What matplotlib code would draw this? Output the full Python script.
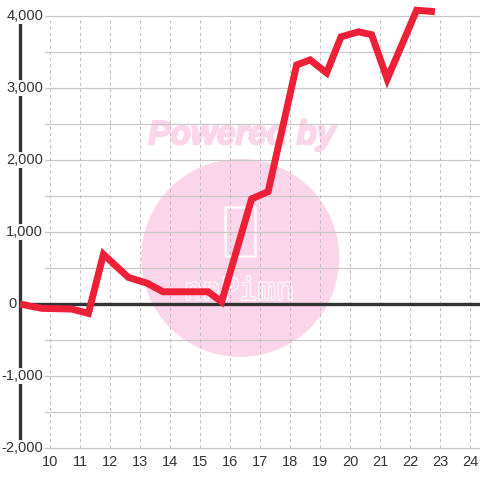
import matplotlib
matplotlib.use("Agg")
import matplotlib.pyplot as plt
from matplotlib.patches import Ellipse, FancyBboxPatch
import matplotlib.patheffects as pe

plt.rcParams['font.family'] = ['Liberation Sans', 'DejaVu Sans']

# series
hours = [9.0, 9.72, 10.72, 11.28, 11.78, 12.61, 13.23, 13.77, 15.27, 15.72,
         16.72, 17.27, 18.22, 18.67, 19.22, 19.7, 20.28, 20.72, 21.24, 22.22, 22.83]
values = [0, -60, -70, -130, 690, 370, 290, 170, 170, 30,
          1460, 1560, 3320, 3390, 3210, 3710, 3780, 3740, 3125, 4080, 4060]

x_ticks = list(range(10, 25))
y_ticks = [4000, 3000, 2000, 1000, 0, -1000, -2000]
y_labels = ["4,000", "3,000", "2,000", "1,000", "0", "-1,000", "-2,000"]
y_grid = [-2000, -1500, -1000, -500, 500, 1000, 1500, 2000, 2500, 3000, 3500, 4000]

ink = "#333333"
red = "#ee2038"
pink = "#fbd5e9"

fig = plt.figure(figsize=(4.8, 4.8), dpi=100)
ax = fig.add_axes([0, 0, 1, 1])
ax.set_xlim(8.333, 24.333)
ax.set_ylim(-2444, 4222)
ax.axis("off")

# watermark
ax.add_patch(Ellipse((16.34, 640), 198 / 30, 198 / 72 * 1000, facecolor=pink,
                     edgecolor="none", zorder=0))
ax.add_patch(FancyBboxPatch((15.85, 660), 1.0, 680,
                            boxstyle="round,pad=0,rounding_size=0.15",
                            facecolor="none", edgecolor="white", lw=1.6, zorder=0.5))
ax.text(16.3, 180, "nnPimn", ha="center", va="center", fontsize=22,
        family="DejaVu Sans Mono", color=pink, zorder=0.5,
        path_effects=[pe.withStroke(linewidth=1.5, foreground="white")])
ax.text(16.4, 2340, "Powered by", ha="center", va="center", fontsize=24,
        fontweight="bold", fontstyle="italic", color=pink, zorder=0.6,
        path_effects=[pe.withStroke(linewidth=1.6, foreground=pink)])

# grid
for g in y_grid:
    ax.plot([9.83, 24.333], [g, g], color="#c8c8c8", lw=0.9, zorder=1)
for t in x_ticks:
    ax.plot([t, t], [-2000, 4000], color="#c0c0c0", lw=0.75,
            dashes=(3, 3), zorder=1)

# axis lines
ax.plot([9.43, 24.333], [0, 0], color=ink, lw=2.4, zorder=2)
ax.plot([9.0, 9.0], [-2000, 4000], color=ink, lw=2.4, zorder=2,
        solid_capstyle="butt")

# data line
ax.plot(hours, values, color=red, lw=5, solid_capstyle="butt",
        solid_joinstyle="miter", zorder=3)

# tick labels
for v, lab in zip(y_ticks, y_labels):
    xr = 9.77 if v != 0 else 8.9
    ax.text(xr, v, lab, ha="right", va="center", fontsize=10.5, color=ink,
            zorder=4, bbox=dict(facecolor="white", edgecolor="none", pad=0.6))
for t in x_ticks:
    ax.text(t, -2194, str(t), ha="center", va="center", fontsize=10.5,
            color=ink, zorder=4)

fig.savefig("out.png", dpi=100)
